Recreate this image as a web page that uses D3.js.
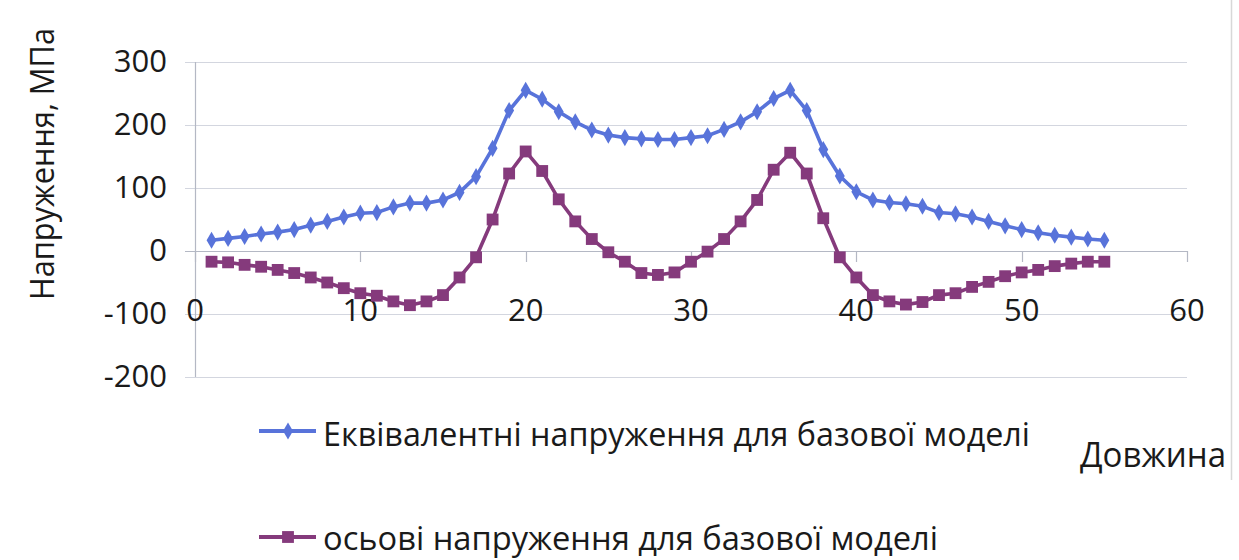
<!DOCTYPE html>
<html>
<head>
<meta charset="utf-8">
<script src="https://cdn.jsdelivr.net/npm/d3@7"></script>
<style>
  html, body { margin: 0; padding: 0; background: #fff; }
  svg { display: block; }
  text { font-family: "Open Sans", "Noto Sans", sans-serif; fill: #1a1a1a; }
</style>
</head>
<body>
<script>
// ---- data ----
const lengthX = d3.range(1, 56);
const equivalentStress = [17, 20, 23, 27, 30, 34, 41, 47, 54, 60, 61, 70, 76, 76, 81, 93, 118, 163, 223, 255,
  241, 221, 205, 192, 184, 180, 178, 177, 177, 180, 183, 193, 205, 221, 242, 255, 223, 161, 119, 94,
  81, 77, 75, 71, 61, 59, 54, 47, 40, 34, 29, 25, 22, 19, 17];
const axialStress = [-17, -18, -22, -25, -30, -35, -42, -50, -59, -67, -71, -80, -86, -80, -70, -42, -10, 50, 123, 158,
  127, 82, 47, 19, -2, -17, -35, -38, -34, -17, -1, 19, 47, 81, 129, 156, 123, 52, -10, -42,
  -70, -80, -85, -81, -70, -67, -57, -49, -40, -34, -30, -24, -20, -17, -17];
const xTicks = [0, 10, 20, 30, 40, 50, 60];
const yTicks = [-200, -100, 0, 100, 200, 300];
const seriesNames = ["Еквівалентні напруження для базової моделі", "осьові напруження для базової моделі"];
const yTitle = "Напруження, МПа";
const xTitle = "Довжина";

// ---- layout ----
const W = 1239, H = 560;
const svg = d3.select("body").append("svg").attr("width", W).attr("height", H);

const x = d3.scaleLinear().domain([0, 60]).range([195, 1187]);
const y = d3.scaleLinear().domain([-200, 300]).range([377, 62]);

const gridColor = "#d3d6df";
const axisColor = "#b4b8c4";
const blue = "#5873da";
const purple = "#853a7c";

function fit(sel, w) {
  sel.attr("textLength", w).attr("lengthAdjust", "spacingAndGlyphs");
}

// right frame line
svg.append("line").attr("x1", 1231.5).attr("x2", 1231.5).attr("y1", 0).attr("y2", 480)
  .attr("stroke", "#d8d8d8").attr("stroke-width", 1.5);

// gridlines
svg.append("g").selectAll("line").data(yTicks).join("line")
  .attr("x1", x(0) - 10).attr("x2", x(60))
  .attr("y1", d => Math.round(y(d)) + 0.5).attr("y2", d => Math.round(y(d)) + 0.5)
  .attr("stroke", d => d === 0 ? axisColor : gridColor).attr("stroke-width", 1.2);

// y axis line
svg.append("line").attr("x1", x(0) + 0.5).attr("x2", x(0) + 0.5)
  .attr("y1", y(300)).attr("y2", y(-200)).attr("stroke", axisColor).attr("stroke-width", 1.2);

// x ticks (downward from zero line)
svg.append("g").selectAll("line").data(xTicks).join("line")
  .attr("x1", d => Math.round(x(d)) + 0.5).attr("x2", d => Math.round(x(d)) + 0.5)
  .attr("y1", y(0)).attr("y2", y(0) + 11)
  .attr("stroke", axisColor).attr("stroke-width", 1.2);

// y tick labels
svg.append("g").selectAll("text").data(yTicks).join("text")
  .attr("x", 167).attr("y", d => y(d) + 10)
  .attr("text-anchor", "end").attr("font-size", 31)
  .text(d => d);

// x tick labels
svg.append("g").selectAll("text").data(xTicks).join("text")
  .attr("x", d => x(d)).attr("y", 321)
  .attr("text-anchor", "middle").attr("font-size", 31)
  .text(d => d);

// lines
const line = d3.line().x((d, i) => x(lengthX[i])).y(d => y(d));
svg.append("path").datum(axialStress).attr("d", line)
  .attr("fill", "none").attr("stroke", purple).attr("stroke-width", 3.6);
svg.append("path").datum(equivalentStress).attr("d", line)
  .attr("fill", "none").attr("stroke", blue).attr("stroke-width", 3.6);

// markers
const sq = d3.symbol().type(d3.symbolSquare).size(140);
const dm = d3.symbol().type(d3.symbolDiamond).size(85);
svg.append("g").selectAll("path").data(axialStress).join("path")
  .attr("d", sq).attr("transform", (d, i) => `translate(${x(lengthX[i])},${y(d)})`)
  .attr("fill", purple);
svg.append("g").selectAll("path").data(equivalentStress).join("path")
  .attr("d", dm).attr("transform", (d, i) => `translate(${x(lengthX[i])},${y(d)})`)
  .attr("fill", blue);

// y title
svg.append("text")
  .attr("transform", "translate(54,164) rotate(-90)")
  .attr("text-anchor", "middle").attr("font-size", 33)
  .text(yTitle).call(fit, 272);

// x title
svg.append("text").attr("x", 1080).attr("y", 467)
  .attr("font-size", 34).text(xTitle).call(fit, 146);

// legend
const legend = [
  { name: seriesNames[0], color: blue, sym: dm, ly: 431, ty: 446, w: 707 },
  { name: seriesNames[1], color: purple, sym: sq, ly: 537, ty: 550, w: 615 }
];
legend.forEach(l => {
  svg.append("line").attr("x1", 259).attr("x2", 316).attr("y1", l.ly).attr("y2", l.ly)
    .attr("stroke", l.color).attr("stroke-width", 4);
  svg.append("path").attr("d", l.sym).attr("transform", `translate(288,${l.ly})`).attr("fill", l.color);
  svg.append("text").attr("x", 323).attr("y", l.ty).attr("font-size", 33)
    .text(l.name).call(fit, l.w);
});
</script>
</body>
</html>
